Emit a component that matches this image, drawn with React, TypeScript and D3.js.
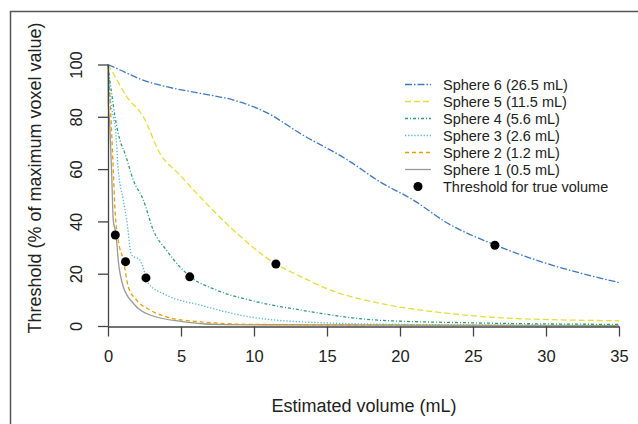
import React, { useEffect, useRef } from "react";
import * as d3 from "d3";

const W = 638;
const H = 424;

// Estimated volume (mL) vs threshold (% of max voxel value)
const sphere6Vol = [0, 0.8, 2.4, 4.0, 6.3, 8.6, 10.9, 13.2, 16.4, 18.6, 20.9, 23.2, 26.5, 30.0, 35.0];
const sphere6Thr = [100, 98, 94, 91.5, 89, 86.4, 81.5, 73.5, 63.5, 55.2, 48.2, 39.5, 31, 24, 16.6];

const sphere5Vol = [0, 0.36, 1.28, 2.42, 3.56, 4.93, 6.3, 8.58, 11.5, 13.2, 15.2, 18.6, 23.2, 27.8, 35];
const sphere5Thr = [100, 96.6, 87.7, 80, 66, 57.7, 49.4, 36.7, 23.7, 18.9, 13.8, 8.7, 4.9, 2.9, 2.0];

const sphere4Vol = [0, 0.1, 0.25, 0.48, 0.82, 1.16, 1.73, 2.42, 3.1, 4.0, 5.6, 7.4, 9.7, 13.2, 18.6, 25, 35];
const sphere4Thr = [100, 95, 89, 80, 71, 66, 55.8, 48.2, 36.7, 29, 19, 13.8, 9.9, 6.1, 2.2, 1.2, 0.6];

const sphere3Vol = [0, 0.15, 0.36, 0.5, 0.7, 1.05, 1.28, 1.62, 2.19, 2.42, 2.76, 4.0, 6.3, 9.7, 13.2, 20, 35];
const sphere3Thr = [100, 88, 80, 76, 59.7, 48.2, 40.5, 27.1, 25.2, 22, 16.3, 11.8, 8, 3.5, 1.6, 0.6, 0.2];

const sphere2Vol = [0, 0.1, 0.2, 0.36, 0.48, 0.7, 1.05, 1.39, 1.96, 2.88, 4.0, 6.3, 10, 35];
const sphere2Thr = [100, 90, 80, 59.7, 44.4, 32.9, 25.2, 15, 9.9, 6.1, 3.5, 1.6, 0.6, 0.1];

const sphere1Vol = [0, 0.02, 0.1, 0.25, 0.36, 0.55, 0.7, 1.05, 1.73, 2.88, 5.2, 8, 35];
const sphere1Thr = [100, 85, 78.8, 58.4, 40.5, 35, 25.2, 15, 8.7, 4.2, 1.6, 0.5, 0.1];

// threshold giving the true volume
const trueVol = [0.5, 1.2, 2.6, 5.6, 11.5, 26.5];
const trueThr = [34.8, 24.6, 18.4, 18.8, 23.7, 30.9];

const xTicks = [0, 5, 10, 15, 20, 25, 30, 35];
const yTicks = [0, 20, 40, 60, 80, 100];

const series = [
  { name: "Sphere 6 (26.5 mL)", vol: sphere6Vol, thr: sphere6Thr, color: "#3b78c3", dash: "7,2,1.5,2" },
  { name: "Sphere 5 (11.5 mL)", vol: sphere5Vol, thr: sphere5Thr, color: "#e8dc3a", dash: "6,3" },
  { name: "Sphere 4 (5.6 mL)", vol: sphere4Vol, thr: sphere4Thr, color: "#2e9e72", dash: "3,2,1,2" },
  { name: "Sphere 3 (2.6 mL)", vol: sphere3Vol, thr: sphere3Thr, color: "#55b4e9", dash: "1.3,1.8" },
  { name: "Sphere 2 (1.2 mL)", vol: sphere2Vol, thr: sphere2Thr, color: "#e69f00", dash: "4,3" },
  { name: "Sphere 1 (0.5 mL)", vol: sphere1Vol, thr: sphere1Thr, color: "#999999", dash: null },
];

const font = "'Liberation Sans', Arial, sans-serif";

const App = () => {
  const svgRef = useRef(null);

  useEffect(() => {
    const svg = d3.select(svgRef.current);
    svg.selectAll("*").remove();

    const x = d3.scaleLinear().domain([0, 35]).range([108, 619]);
    const y = d3.scaleLinear().domain([0, 100]).range([326, 64.5]);

    svg.append("rect").attr("width", W).attr("height", H).attr("fill", "#fff");

    // frame (top and left edges visible)
    svg
      .append("path")
      .attr("d", `M10.5,${H} V11.5 H${W}`)
      .attr("fill", "none")
      .attr("stroke", "#555")
      .attr("stroke-width", 1.5);

    // curves
    const line = d3
      .line()
      .x((d) => x(d[0]))
      .y((d) => y(d[1]))
      .curve(d3.curveMonotoneX);

    series
      .slice()
      .reverse()
      .forEach((s) => {
        svg
          .append("path")
          .datum(s.vol.map((v, i) => [v, s.thr[i]]))
          .attr("d", line)
          .attr("fill", "none")
          .attr("stroke", s.color)
          .attr("stroke-width", 1.3)
          .attr("stroke-dasharray", s.dash);
      });

    // points
    svg
      .append("g")
      .selectAll("circle")
      .data(trueVol)
      .join("circle")
      .attr("cx", (d) => x(d))
      .attr("cy", (d, i) => y(trueThr[i]))
      .attr("r", 4.5)
      .attr("fill", "#000");

    // x axis
    const xAxis = svg
      .append("g")
      .attr("transform", "translate(0,326.5)")
      .call(d3.axisBottom(x).tickValues(xTicks).tickSize(10).tickPadding(14).tickSizeOuter(0));
    xAxis.select(".domain").attr("stroke", "#444").attr("stroke-width", 1.3);
    xAxis.selectAll(".tick line").attr("stroke", "#444").attr("stroke-width", 1.3);
    xAxis.selectAll("text").attr("font-family", font).attr("font-size", 16.5).attr("fill", "#222");

    // y axis
    const yAxis = svg
      .append("g")
      .attr("transform", "translate(108,0)")
      .call(d3.axisLeft(y).tickValues(yTicks).tickSize(10).tickSizeOuter(0).tickFormat(d3.format("d")));
    yAxis.select(".domain").attr("stroke", "#444").attr("stroke-width", 1.3);
    yAxis.selectAll(".tick line").attr("stroke", "#444").attr("stroke-width", 1.3);
    yAxis
      .selectAll("text")
      .attr("font-family", font)
      .attr("font-size", 16.5)
      .attr("fill", "#222")
      .attr("x", null)
      .attr("dy", null)
      .attr("text-anchor", "middle")
      .attr("transform", "translate(-32,0) rotate(-90)")
      .attr("y", 0)
      .attr("dominant-baseline", "central");

    // titles
    svg
      .append("text")
      .attr("x", 364)
      .attr("y", 406)
      .attr("text-anchor", "middle")
      .attr("dominant-baseline", "central")
      .attr("font-family", font)
      .attr("font-size", 18)
      .attr("fill", "#222")
      .text("Estimated volume (mL)");

    svg
      .append("text")
      .attr("transform", "translate(35,178) rotate(-90)")
      .attr("text-anchor", "middle")
      .attr("dominant-baseline", "central")
      .attr("font-family", font)
      .attr("font-size", 18)
      .attr("fill", "#222")
      .text("Threshold (% of maximum voxel value)");

    // legend
    const leg = svg.append("g").attr("transform", "translate(405,84.5)");
    const rowH = 17;
    series.forEach((s, i) => {
      const g = leg.append("g").attr("transform", `translate(0,${i * rowH})`);
      g.append("line")
        .attr("x1", 0)
        .attr("x2", 26)
        .attr("stroke", s.color)
        .attr("stroke-width", 1.3)
        .attr("stroke-dasharray", s.dash);
      g.append("text")
        .attr("x", 38)
        .attr("dominant-baseline", "central")
        .attr("font-family", font)
        .attr("font-size", 14.5)
        .attr("fill", "#222")
        .text(s.name);
    });
    const lastRow = leg.append("g").attr("transform", `translate(0,${series.length * rowH})`);
    lastRow.append("circle").attr("cx", 13).attr("r", 4.5).attr("fill", "#000");
    lastRow
      .append("text")
      .attr("x", 38)
      .attr("dominant-baseline", "central")
      .attr("font-family", font)
      .attr("font-size", 14.5)
      .attr("fill", "#222")
      .text("Threshold for true volume");
  }, []);

  return (
    <svg
      ref={svgRef}
      width={W}
      height={H}
      style={{ position: "fixed", left: 0, top: 0, display: "block" }}
    />
  );
};

export default App;
